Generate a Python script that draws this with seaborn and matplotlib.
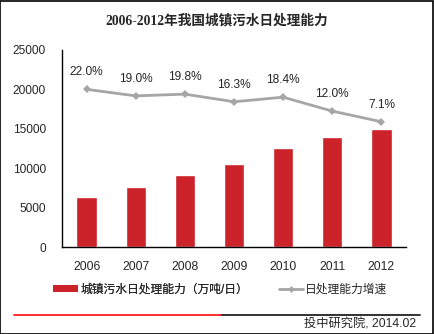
import matplotlib
matplotlib.use("Agg")
import matplotlib.pyplot as plt
import seaborn as sns
import numpy as np
import pandas as pd
from matplotlib.patches import Patch, Rectangle
from matplotlib.lines import Line2D

# 城镇污水日处理能力（万吨/日）及其年增速
years = ["2006", "2007", "2008", "2009", "2010", "2011", "2012"]
capacity = [6400, 7600, 9150, 10550, 12600, 14000, 15000]
growth = [22.0, 19.0, 19.8, 16.3, 18.4, 12.0, 7.1]
growth_labels = ["22.0%", "19.0%", "19.8%", "16.3%", "18.4%", "12.0%", "7.1%"]
yticks = [0, 5000, 10000, 15000, 20000, 25000]

sns.set_style("white")
plt.rcParams["font.family"] = ["Liberation Sans", "Noto Sans CJK SC", "DejaVu Sans"]

RED = "#CC2229"
GREY = "#A6A6A6"

fig = plt.figure(figsize=(4.34, 3.34), dpi=100)
ax = fig.add_axes([62 / 434, 87 / 334, 344 / 434, 197 / 334])

df = pd.DataFrame({"year": years, "capacity": capacity})
sns.barplot(data=df, x="year", y="capacity", color=RED, saturation=1,
            width=0.41, ax=ax)
ax.set_xlim(-0.5, 6.5)
ax.set_ylim(0, 25000)
ax.set_yticks(yticks)
ax.set_yticklabels([str(v) for v in yticks], fontsize=8.6)
ax.tick_params(axis="x", labelsize=8.8, length=0, pad=10)
ax.tick_params(axis="y", length=0, pad=11.5)
ax.set_xlabel("")
ax.set_ylabel("")
for s in ["top", "right"]:
    ax.spines[s].set_visible(False)
for s in ["left", "bottom"]:
    ax.spines[s].set_color("black")
    ax.spines[s].set_linewidth(1.0)

# 增速折线（次坐标轴，隐藏）
ax2 = ax.twinx()
sns.lineplot(x=np.arange(len(years)), y=growth, ax=ax2, color=GREY,
             linewidth=2, marker="D", markersize=4, markeredgewidth=0)
ax2.set_ylim(-50.5, 40.1)
ax2.set_xlim(-0.5, 6.5)
ax2.axis("off")
for i, (g, lab) in enumerate(zip(growth, growth_labels)):
    ax2.annotate(lab, (i, g), xytext=(0, 8), textcoords="offset points",
                 ha="center", va="bottom", fontsize=8.6)

fig.text(0.5, 1 - 21 / 334, "2006-2012年我国城镇污水日处理能力", ha="center",
         va="center", fontsize=9.8, fontweight="bold",
         family=["Liberation Serif", "Noto Sans CJK SC"])

# 图例：分别放置两项
leg_kw = dict(loc="center left", frameon=False, fontsize=8.5,
              borderpad=0, borderaxespad=0, handletextpad=0.2)
leg1 = fig.legend([Patch(facecolor=RED, edgecolor="none")],
                  ["城镇污水日处理能力（万吨/日）"],
                  bbox_to_anchor=(53 / 434, 1 - 290 / 334),
                  handlelength=2.1, handleheight=0.55, **leg_kw)
fig.add_artist(leg1)
fig.legend([Line2D([0], [0], color=GREY, lw=2, marker="D", markersize=3.5,
                   markeredgewidth=0)],
           ["日处理能力增速"],
           bbox_to_anchor=(279 / 434, 1 - 290 / 334),
           handlelength=2.0, **leg_kw)

# 底部分隔线与来源
fig.add_artist(Line2D([14 / 434, 222 / 434], [1 - 314.5 / 334] * 2,
                      color="#FF2020", lw=1.3))
fig.add_artist(Line2D([222 / 434, 420 / 434], [1 - 314.5 / 334] * 2,
                      color="#222222", lw=1.3))
fig.text(416 / 434, 1 - 324 / 334, "投中研究院, 2014.02", ha="right",
         va="center", fontsize=8.8)

fig.add_artist(Rectangle((0.001, 0.001), 0.997, 0.997, transform=fig.transFigure,
                         fill=False, edgecolor="black", lw=1.2))

fig.savefig("out.png", dpi=100)
